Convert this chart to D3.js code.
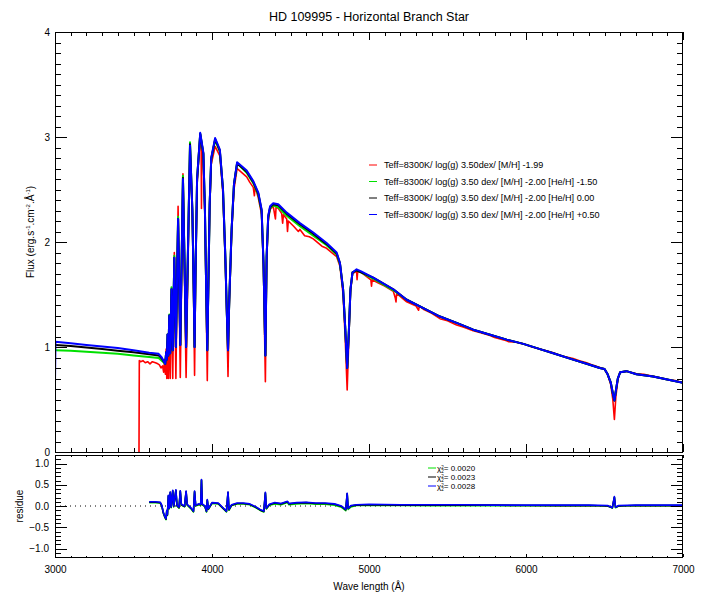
<!DOCTYPE html>
<html>
<head>
<meta charset="utf-8">
<script src="https://cdn.jsdelivr.net/npm/d3@7"></script>
<style>
body { margin: 0; background: #fff; }
svg { display: block; font-family: "Liberation Sans", Arial, sans-serif; }
.axis path { display: none; }
.axis line { stroke: #000; shape-rendering: crispEdges; }
.axis text { font-size: 10px; fill: #000; font-family: "Liberation Sans", Arial, sans-serif; }
</style>
</head>
<body>
<div id="chart"></div>
<script>
// model spectra (shared wavelength grid, Angstrom)
const modelWave = [
  3000, 3003, 3100, 3200, 3300, 3400, 3500, 3600, 3660, 3680,
  3695, 3702, 3708, 3712, 3717, 3722, 3728, 3734, 3742, 3750,
  3760, 3770, 3784, 3798, 3815, 3835, 3860, 3875, 3883, 3889,
  3895, 3905, 3925, 3945, 3955, 3963, 3970, 3977, 3985, 3995,
  4020, 4050, 4070, 4085, 4095, 4102, 4110, 4125, 4140, 4160,
  4221, 4263, 4295, 4316, 4328, 4340, 4348, 4358, 4370, 4390,
  4422, 4476, 4560, 4645, 4730, 4794, 4815, 4835, 4848, 4861,
  4872, 4882, 4895, 4921, 4950, 5027, 5155, 5240, 5346, 5452,
  5558, 5664, 5771, 5877, 5983, 6089, 6174, 6300, 6386, 6470,
  6500, 6520, 6540, 6553, 6563, 6572, 6585, 6600, 6640, 6704,
  6810, 6900, 7000
];
const fluxBlue = [
  0.66, 1.05, 1.035, 1.02, 1.005, 0.99, 0.97, 0.945, 0.935, 0.90,
  0.86, 0.84, 0.95, 0.88, 1.12, 0.92, 1.30, 0.94, 1.55, 0.97,
  1.85, 1.00, 2.22, 1.02, 2.60, 1.00, 2.92, 2.30, 1.60, 1.00,
  1.70, 2.60, 3.04, 2.85, 2.30, 1.55, 0.97, 1.60, 2.35, 2.80,
  2.99, 2.88, 2.50, 1.85, 1.30, 0.97, 1.45, 2.12, 2.55, 2.76,
  2.68, 2.58, 2.47, 2.31, 1.80, 0.92, 1.86, 2.25, 2.34, 2.37,
  2.36, 2.28, 2.18, 2.09, 1.99, 1.90, 1.80, 1.55, 1.20, 0.80,
  1.16, 1.55, 1.71, 1.74, 1.72, 1.66, 1.55, 1.45, 1.37, 1.29,
  1.23, 1.165, 1.117, 1.07, 1.03, 0.98, 0.94, 0.88, 0.84, 0.80,
  0.79, 0.74, 0.66, 0.56, 0.49, 0.58, 0.70, 0.76, 0.77, 0.74,
  0.72, 0.69, 0.66
];
const fluxBlack = [
  1.02, 1.02, 1.01, 0.995, 0.98, 0.965, 0.95, 0.93, 0.92, 0.89,
  0.855, 0.84, 0.95, 0.88, 1.12, 0.92, 1.30, 0.94, 1.55, 0.97,
  1.85, 1.00, 2.22, 1.02, 2.61, 1.00, 2.93, 2.30, 1.60, 1.00,
  1.70, 2.60, 3.03, 2.84, 2.30, 1.55, 0.97, 1.60, 2.35, 2.79,
  2.98, 2.87, 2.50, 1.85, 1.30, 0.97, 1.45, 2.12, 2.55, 2.75,
  2.67, 2.57, 2.46, 2.30, 1.80, 0.92, 1.86, 2.24, 2.33, 2.36,
  2.35, 2.27, 2.17, 2.08, 1.98, 1.89, 1.80, 1.55, 1.20, 0.80,
  1.16, 1.55, 1.71, 1.73, 1.71, 1.66, 1.55, 1.45, 1.37, 1.29,
  1.23, 1.165, 1.117, 1.07, 1.03, 0.98, 0.94, 0.88, 0.84, 0.80,
  0.79, 0.74, 0.66, 0.56, 0.49, 0.58, 0.70, 0.76, 0.77, 0.74,
  0.72, 0.69, 0.66
];
const fluxGreen = [
  0.97, 0.97, 0.965, 0.955, 0.945, 0.935, 0.92, 0.905, 0.895, 0.87,
  0.85, 0.84, 0.95, 0.88, 1.12, 0.92, 1.31, 0.94, 1.57, 0.97,
  1.87, 1.00, 2.24, 1.02, 2.63, 1.00, 2.95, 2.30, 1.60, 1.00,
  1.70, 2.60, 3.03, 2.84, 2.30, 1.55, 0.97, 1.60, 2.35, 2.79,
  2.97, 2.86, 2.50, 1.85, 1.30, 0.97, 1.45, 2.12, 2.55, 2.75,
  2.66, 2.56, 2.45, 2.29, 1.80, 0.92, 1.86, 2.23, 2.32, 2.35,
  2.33, 2.25, 2.15, 2.06, 1.97, 1.88, 1.79, 1.55, 1.20, 0.80,
  1.16, 1.55, 1.71, 1.73, 1.71, 1.65, 1.54, 1.45, 1.37, 1.29,
  1.23, 1.165, 1.117, 1.07, 1.03, 0.98, 0.94, 0.88, 0.84, 0.80,
  0.79, 0.74, 0.66, 0.56, 0.49, 0.58, 0.70, 0.76, 0.77, 0.74,
  0.72, 0.69, 0.66
];

// observed spectrum (red)
const obsWave = [
  3535, 3537, 3545, 3560, 3575, 3590, 3605, 3620, 3640, 3655,
  3665, 3675, 3685, 3692, 3698, 3703, 3708, 3712, 3717, 3722,
  3728, 3734, 3742, 3750, 3760, 3770, 3784, 3798, 3815, 3835,
  3860, 3875, 3883, 3889, 3895, 3905, 3925, 3931, 3933, 3935,
  3945, 3955, 3963, 3970, 3977, 3985, 3995, 4020, 4050, 4070,
  4085, 4095, 4102, 4110, 4125, 4140, 4160, 4190, 4221, 4240,
  4263, 4270, 4274, 4295, 4316, 4328, 4340, 4348, 4358, 4370,
  4390, 4404, 4408, 4422, 4444, 4450, 4455, 4476, 4481, 4486,
  4520, 4550, 4560, 4590, 4620, 4645, 4700, 4730, 4794, 4815,
  4835, 4848, 4861, 4872, 4882, 4895, 4921, 4924, 4928, 4950,
  5012, 5016, 5020, 5060, 5100, 5155, 5167, 5172, 5176, 5240,
  5300, 5316, 5320, 5346, 5400, 5452, 5500, 5558, 5600, 5664,
  5700, 5771, 5800, 5877, 5890, 5940, 5983, 6040, 6089, 6130,
  6174, 6230, 6300, 6340, 6386, 6430, 6470, 6500, 6520, 6540,
  6553, 6563, 6572, 6585, 6600, 6640, 6704, 6750, 6810, 6860,
  6900, 6950, 7000
];
const obsFlux = [
  0.00, 0.87, 0.86, 0.87, 0.85, 0.86, 0.84, 0.86, 0.85, 0.84,
  0.83, 0.80, 0.82, 0.76, 0.88, 0.74, 0.98, 0.70, 1.05, 0.70,
  1.25, 0.70, 1.50, 0.70, 1.90, 0.70, 2.34, 0.71, 2.65, 0.71,
  2.90, 2.25, 1.50, 0.73, 1.60, 2.55, 3.00, 2.90, 2.32, 2.90,
  2.78, 2.25, 1.45, 0.68, 1.55, 2.30, 2.74, 2.91, 2.82, 2.45,
  1.80, 1.25, 0.72, 1.40, 2.08, 2.50, 2.70, 2.66, 2.62, 2.57,
  2.52, 2.44, 2.53, 2.42, 2.26, 1.75, 0.67, 1.80, 2.20, 2.31,
  2.34, 2.22, 2.33, 2.32, 2.27, 2.18, 2.26, 2.22, 2.10, 2.20,
  2.15, 2.10, 2.12, 2.06, 2.05, 2.03, 1.96, 1.94, 1.86, 1.77,
  1.50, 1.10, 0.59, 1.10, 1.52, 1.70, 1.72, 1.64, 1.72, 1.71,
  1.64, 1.58, 1.64, 1.61, 1.58, 1.53, 1.47, 1.43, 1.51, 1.43,
  1.39, 1.35, 1.39, 1.36, 1.32, 1.27, 1.25, 1.21, 1.19, 1.155,
  1.14, 1.11, 1.09, 1.06, 1.05, 1.045, 1.03, 1.00, 0.98, 0.965,
  0.945, 0.915, 0.89, 0.87, 0.85, 0.825, 0.805, 0.79, 0.74, 0.64,
  0.50, 0.31, 0.52, 0.69, 0.76, 0.77, 0.745, 0.74, 0.72, 0.705,
  0.69, 0.68, 0.66
];

// residuals
const resWave = [
  3600, 3640, 3670, 3680, 3690, 3700, 3707, 3712, 3716, 3722,
  3727, 3734, 3740, 3750, 3756, 3770, 3777, 3790, 3798, 3805,
  3825, 3835, 3842, 3865, 3882, 3889, 3896, 3915, 3928, 3933,
  3938, 3955, 3965, 3970, 3977, 4000, 4040, 4070, 4092, 4102,
  4108, 4125, 4160, 4200, 4240, 4280, 4310, 4330, 4340, 4346,
  4365, 4400, 4440, 4481, 4490, 4540, 4600, 4660, 4720, 4780,
  4825, 4852, 4861, 4867, 4885, 4920, 5000, 5200, 5400, 5600,
  5800, 6000, 6200, 6400, 6520, 6550, 6563, 6570, 6590, 6700,
  6850, 7000
];
const resBlue = [
  0.10, 0.10, 0.09, 0.02, -0.15, -0.25, -0.30, -0.10, -0.20, 0.25,
  -0.05, 0.33, -0.02, 0.37, 0.00, 0.38, 0.02, -0.03, 0.36, 0.04,
  0.00, 0.35, 0.04, -0.04, -0.12, 0.35, 0.02, 0.05, 0.04, 0.62,
  0.05, 0.00, -0.12, 0.15, -0.06, 0.08, 0.07, -0.04, -0.12, 0.33,
  -0.08, 0.03, 0.07, 0.07, 0.05, -0.02, -0.09, -0.12, 0.32, -0.05,
  0.04, 0.08, 0.06, 0.11, 0.06, 0.08, 0.09, 0.07, 0.07, 0.05,
  0.00, -0.08, 0.30, -0.05, 0.01, 0.03, 0.04, 0.03, 0.03, 0.03,
  0.02, 0.02, 0.02, 0.02, 0.01, -0.04, 0.22, -0.03, 0.01, 0.02,
  0.02, 0.02
];
const resBlack = [
  0.09, 0.09, 0.08, 0.01, -0.16, -0.26, -0.31, -0.11, -0.21, 0.24,
  -0.06, 0.32, -0.03, 0.36, -0.01, 0.37, 0.01, -0.04, 0.35, 0.03,
  -0.01, 0.34, 0.03, -0.05, -0.13, 0.34, 0.01, 0.04, 0.03, 0.61,
  0.04, -0.01, -0.13, 0.14, -0.07, 0.07, 0.06, -0.05, -0.13, 0.32,
  -0.09, 0.02, 0.06, 0.06, 0.04, -0.03, -0.10, -0.13, 0.31, -0.06,
  0.03, 0.07, 0.05, 0.10, 0.05, 0.07, 0.08, 0.06, 0.06, 0.04,
  -0.01, -0.09, 0.29, -0.06, 0.00, 0.02, 0.03, 0.02, 0.02, 0.02,
  0.02, 0.01, 0.01, 0.01, 0.00, -0.04, 0.21, -0.03, 0.00, 0.01,
  0.01, 0.01
];
const resGreen = [
  0.08, 0.08, 0.07, 0.00, -0.17, -0.27, -0.32, -0.12, -0.22, 0.23,
  -0.07, 0.31, -0.04, 0.35, -0.02, 0.36, 0.00, -0.05, 0.34, 0.02,
  -0.02, 0.33, 0.02, -0.06, -0.14, 0.33, 0.00, 0.03, 0.02, 0.60,
  0.03, -0.02, -0.14, 0.13, -0.08, 0.06, 0.05, -0.06, -0.14, 0.31,
  -0.10, 0.01, 0.05, 0.05, 0.03, -0.04, -0.11, -0.14, 0.30, -0.07,
  0.02, 0.05, 0.03, 0.08, 0.03, 0.05, 0.06, 0.04, 0.04, 0.02,
  -0.03, -0.11, 0.28, -0.08, -0.02, 0.01, 0.02, 0.01, 0.01, 0.01,
  0.01, 0.01, 0.01, 0.01, 0.00, -0.05, 0.20, -0.04, 0.00, 0.01,
  0.01, 0.01
];

// axis ticks
const xMajor = [3000, 4000, 5000, 6000, 7000];
const xMinor = d3.range(30, 71).map(d => d * 100);
const fluxMajor = [0, 1, 2, 3, 4];
const fluxMinor = d3.range(0, 41).map(d => d / 10);
const resMajor = [-1.0, -0.5, 0.0, 0.5, 1.0];
const resMinor = d3.range(-12, 13).map(d => d / 10);

const legendLabels = [
  "Teff=8300K/ log(g) 3.50dex/ [M/H] -1.99",
  "Teff=8300K/ log(g) 3.50 dex/ [M/H] -2.00 [He/H] -1.50",
  "Teff=8300K/ log(g) 3.50 dex/ [M/H] -2.00 [He/H] 0.00",
  "Teff=8300K/ log(g) 3.50 dex/ [M/H] -2.00 [He/H] +0.50"
];
const chiValues = ["0.0020", "0.0023", "0.0028"];

const width = 708, height = 595;
const panel1 = {top: 32, bottom: 452};
const panel2 = {top: 455, bottom: 557};

const svg = d3.select("#chart").append("svg")
    .attr("width", width)
    .attr("height", height);

const xScale = d3.scaleLinear().domain([3000, 7000]).range([55, 683]);
const yFlux = d3.scaleLinear().domain([0, 4]).range([panel1.bottom, panel1.top]);
const yRes = d3.scaleLinear().domain([-1.2, 1.2]).range([panel2.bottom, panel2.top]);

let defs = svg.append("defs");
defs.append("clipPath").attr("id", "clip1").append("rect")
    .attr("x", 55).attr("y", panel1.top).attr("width", 628).attr("height", panel1.bottom - panel1.top);
defs.append("clipPath").attr("id", "clip2").append("rect")
    .attr("x", 55).attr("y", panel2.top).attr("width", 628).attr("height", panel2.bottom - panel2.top);

// title
svg.append("text")
    .attr("x", 369).attr("y", 21)
    .attr("text-anchor", "middle")
    .style("font-size", "12.5px")
    .text("HD 109995 - Horizontal Branch Star");

// spectra
let plot1 = svg.append("g").attr("clip-path", "url(#clip1)");
let fluxLine = d3.line().x(d => xScale(d[0])).y(d => yFlux(d[1]));

let series = [
    {wave: obsWave, flux: obsFlux, color: "#ff0000", w: 1.6},
    {wave: modelWave, flux: fluxGreen, color: "#00e000", w: 2},
    {wave: modelWave, flux: fluxBlack, color: "#000000", w: 2},
    {wave: modelWave, flux: fluxBlue, color: "#0000ff", w: 2}
];
series.forEach(s => {
    plot1.append("path")
        .datum(d3.zip(s.wave, s.flux))
        .attr("fill", "none")
        .attr("stroke", s.color)
        .attr("stroke-width", s.w)
        .attr("stroke-linejoin", "round")
        .attr("d", fluxLine);
});

// residue panel
let plot2 = svg.append("g").attr("clip-path", "url(#clip2)");
plot2.append("line")
    .attr("x1", xScale(3000)).attr("x2", xScale(7000))
    .attr("y1", yRes(0)).attr("y2", yRes(0))
    .attr("stroke", "#000").attr("stroke-width", 1)
    .attr("stroke-dasharray", "1,4");

let resLine = d3.line().x(d => xScale(d[0])).y(d => yRes(d[1]));
[
    {flux: resGreen, color: "#00e000"},
    {flux: resBlack, color: "#000000"},
    {flux: resBlue, color: "#0000ff"}
].forEach(s => {
    plot2.append("path")
        .datum(d3.zip(resWave, s.flux))
        .attr("fill", "none")
        .attr("stroke", s.color)
        .attr("stroke-width", 1.6)
        .attr("stroke-linejoin", "round")
        .attr("d", resLine);
});

// frames
[panel1, panel2].forEach(p => {
    svg.append("rect")
        .attr("x", 55.5).attr("y", p.top + 0.5)
        .attr("width", 627).attr("height", p.bottom - p.top)
        .attr("fill", "none").attr("stroke", "#000").attr("stroke-width", 1);
});

function addAxis(axis, tx, ty){
    svg.append("g")
        .attr("class", "axis")
        .attr("transform", "translate(" + tx + "," + ty + ")")
        .call(axis);
}

// top panel ticks
addAxis(d3.axisBottom(xScale).tickValues(xMajor).tickSize(-8).tickFormat(""), 0, panel1.bottom);
addAxis(d3.axisBottom(xScale).tickValues(xMinor).tickSize(-4).tickFormat(""), 0, panel1.bottom);
addAxis(d3.axisTop(xScale).tickValues(xMajor).tickSize(-8).tickFormat(""), 0, panel1.top);
addAxis(d3.axisTop(xScale).tickValues(xMinor).tickSize(-4).tickFormat(""), 0, panel1.top);
addAxis(d3.axisLeft(yFlux).tickValues(fluxMajor).tickSize(-12).tickPadding(5).tickFormat(d3.format("d")), 55, 0);
addAxis(d3.axisLeft(yFlux).tickValues(fluxMinor).tickSize(-6).tickFormat(""), 55, 0);
addAxis(d3.axisRight(yFlux).tickValues(fluxMajor).tickSize(-12).tickFormat(""), 683, 0);
addAxis(d3.axisRight(yFlux).tickValues(fluxMinor).tickSize(-6).tickFormat(""), 683, 0);

// residue panel ticks
addAxis(d3.axisBottom(xScale).tickValues(xMajor).tickSize(-3).tickPadding(9).tickFormat(d3.format("d")), 0, panel2.bottom);
addAxis(d3.axisBottom(xScale).tickValues(xMinor).tickSize(-1.5).tickFormat(""), 0, panel2.bottom);
addAxis(d3.axisTop(xScale).tickValues(xMajor).tickSize(-3).tickFormat(""), 0, panel2.top);
addAxis(d3.axisTop(xScale).tickValues(xMinor).tickSize(-1.5).tickFormat(""), 0, panel2.top);
addAxis(d3.axisLeft(yRes).tickValues(resMajor).tickSize(-12).tickPadding(6).tickFormat(d3.format(".1f")), 55, 0);
addAxis(d3.axisLeft(yRes).tickValues(resMinor).tickSize(-6).tickFormat(""), 55, 0);
addAxis(d3.axisRight(yRes).tickValues(resMajor).tickSize(-12).tickFormat(""), 683, 0);
addAxis(d3.axisRight(yRes).tickValues(resMinor).tickSize(-6).tickFormat(""), 683, 0);

// axis titles
svg.append("text")
    .attr("x", 369).attr("y", 590)
    .attr("text-anchor", "middle")
    .style("font-size", "10px")
    .text("Wave length (Å)");

let yTitle = svg.append("text")
    .attr("transform", "translate(34,232) rotate(-90)")
    .attr("text-anchor", "middle")
    .style("font-size", "10px");
yTitle.append("tspan").text("Flux (erg.s");
yTitle.append("tspan").attr("dy", -4).style("font-size", "6px").text("-1");
yTitle.append("tspan").attr("dy", 4).text(".cm");
yTitle.append("tspan").attr("dy", -4).style("font-size", "6px").text("-2");
yTitle.append("tspan").attr("dy", 4).text(".Å");
yTitle.append("tspan").attr("dy", -4).style("font-size", "6px").text("-1");
yTitle.append("tspan").attr("dy", 4).text(")");

svg.append("text")
    .attr("transform", "translate(23,506) rotate(-90)")
    .attr("text-anchor", "middle")
    .style("font-size", "10px")
    .text("residue");

// legend, top panel
let legendColors = ["#ff0000", "#00e000", "#000000", "#0000ff"];
legendLabels.forEach((label, i) => {
    let y = 165 + i * 16.5;
    svg.append("line")
        .attr("x1", 369).attr("x2", 377)
        .attr("y1", y).attr("y2", y)
        .attr("stroke", legendColors[i]).attr("stroke-width", 1);
    svg.append("text")
        .attr("x", 384).attr("y", y + 3)
        .style("font-size", "9.1px")
        .text(label);
});

// legend, residue panel
let chiColors = ["#00e000", "#000000", "#0000ff"];
chiValues.forEach((v, i) => {
    let y = 468 + i * 9;
    svg.append("line")
        .attr("x1", 428).attr("x2", 436)
        .attr("y1", y).attr("y2", y)
        .attr("stroke", chiColors[i]).attr("stroke-width", 1);
    let t = svg.append("text")
        .attr("x", 437).attr("y", y + 3)
        .style("font-size", "8px");
    t.append("tspan").text("χ");
    t.append("tspan").attr("dy", -2.5).style("font-size", "4.5px").text("2");
    t.append("tspan").attr("dx", -2.5).attr("dy", 4).style("font-size", "4.5px").text("2");
    t.append("tspan").attr("dy", -1.5).text("= " + v);
});
</script>
</body>
</html>
